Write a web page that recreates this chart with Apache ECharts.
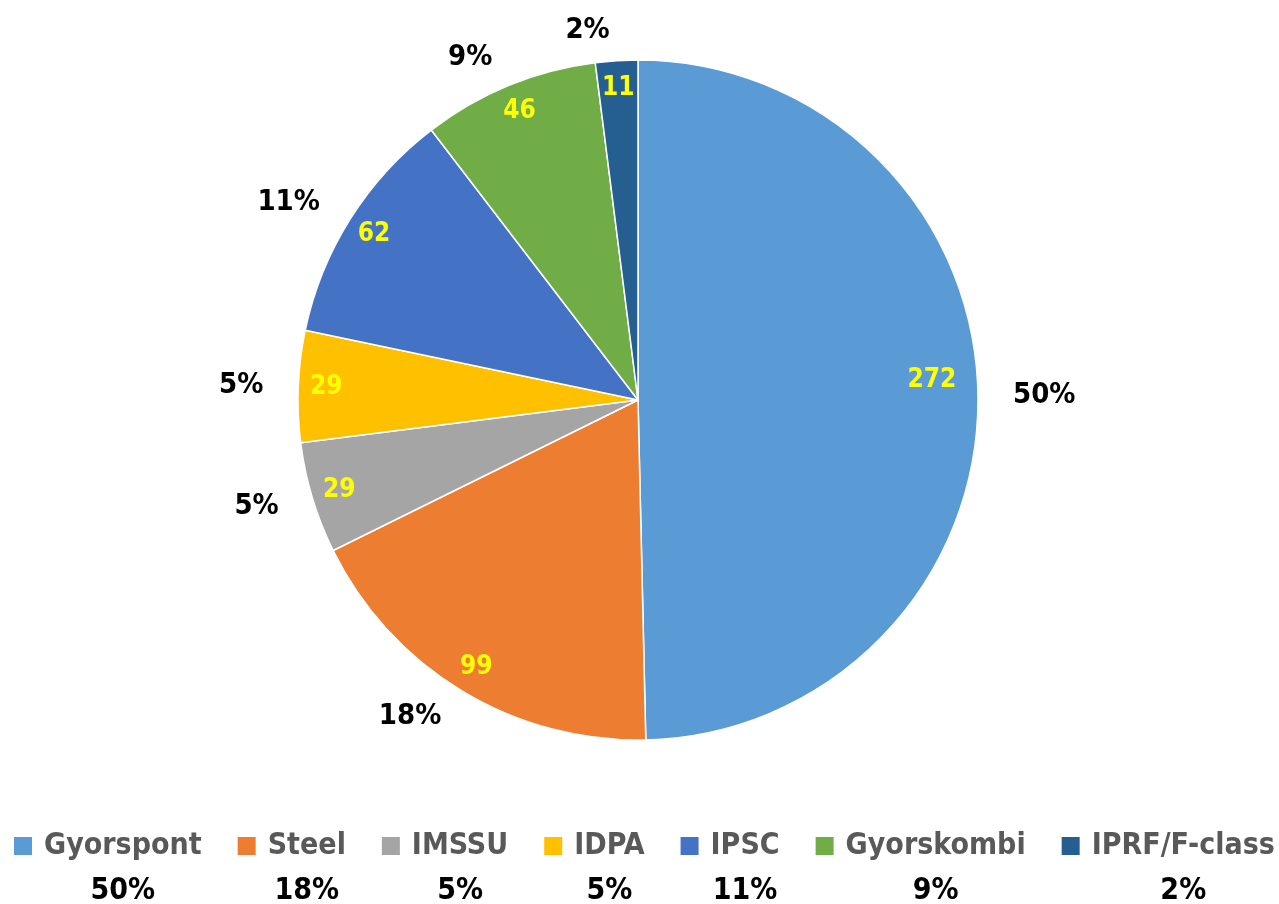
<!DOCTYPE html>
<html>
<head>
<meta charset="utf-8">
<script src="https://cdn.jsdelivr.net/npm/echarts@6/dist/echarts.min.js"></script>
<style>
  html, body { margin: 0; padding: 0; background: #fff; }
  #chart { width: 1279px; height: 904px; }
</style>
</head>
<body>
<div id="chart"></div>
<script>
  // data
  const categories = ['Gyorspont', 'Steel', 'IMSSU', 'IDPA', 'IPSC', 'Gyorskombi', 'IPRF/F-class'];
  const counts = [272, 99, 29, 29, 62, 46, 11];
  const shareLabels = ['50%', '18%', '5%', '5%', '11%', '9%', '2%'];
  const colors = ['#5B9BD5', '#ED7D31', '#A5A5A5', '#FFC000', '#4472C4', '#70AD47', '#255E91'];

  const font = "'DejaVu Sans Condensed', 'DejaVu Sans', sans-serif";

  const pieData = categories.map((name, i) => ({
    name: name,
    value: counts[i],
    itemStyle: { color: colors[i] }
  }));

  const chart = echarts.init(document.getElementById('chart'));
  chart.setOption({
    animation: false,
    color: colors,
    legend: {
      data: categories,
      top: 786,
      left: 12,
      padding: 0,
      itemGap: 34,
      itemWidth: 20,
      itemHeight: 20,
      icon: 'rect',
      selectedMode: false,
      formatter: function (name) {
        const i = categories.indexOf(name);
        return '{e| }\n{a|' + name + '}\n{b|' + shareLabels[i] + '}';
      },
      textStyle: {
        fontFamily: font,
        rich: {
          e: { fontSize: 30, lineHeight: 45 },
          a: { fontSize: 30, lineHeight: 45, fontWeight: 'bold', color: '#595959', align: 'center', padding: [0, 0, 0, 6], fontFamily: font },
          b: { fontSize: 30, lineHeight: 45, fontWeight: 'bold', color: '#000', align: 'center', padding: [0, 0, 0, 6], fontFamily: font }
        }
      }
    },
    series: [
      {
        // the pie itself, with the share labels outside
        type: 'pie',
        radius: [0, 340],
        center: [638, 400],
        startAngle: 90,
        clockwise: true,
        avoidLabelOverlap: false,
        silent: true,
        data: pieData,
        itemStyle: { borderColor: '#fff', borderWidth: 1.5 },
        label: {
          show: true,
          position: 'outside',
          formatter: p => shareLabels[p.dataIndex],
          fontFamily: font,
          fontSize: 29,
          fontWeight: 'bold',
          color: '#000'
        },
        labelLine: { show: false, length: 30, length2: 0 }
      },
      {
        // invisible ring, only used to put the counts near the rim
        type: 'pie',
        radius: [278, 340],
        center: [638, 400],
        startAngle: 90,
        clockwise: true,
        avoidLabelOverlap: false,
        silent: true,
        data: pieData.map(d => ({ name: d.name, value: d.value, itemStyle: { color: 'rgba(0,0,0,0)' } })),
        label: {
          show: true,
          position: 'inside',
          formatter: p => String(counts[p.dataIndex]),
          fontFamily: font,
          fontSize: 26,
          fontWeight: 'bold',
          color: '#FFFF00'
        },
        labelLine: { show: false },
        // the big slice keeps its count a little further in, as in the picture
        labelLayout: p => (p.dataIndex === 0 ? { dx: -18, dy: -16 } : {})
      }
    ]
  });
</script>
</body>
</html>
